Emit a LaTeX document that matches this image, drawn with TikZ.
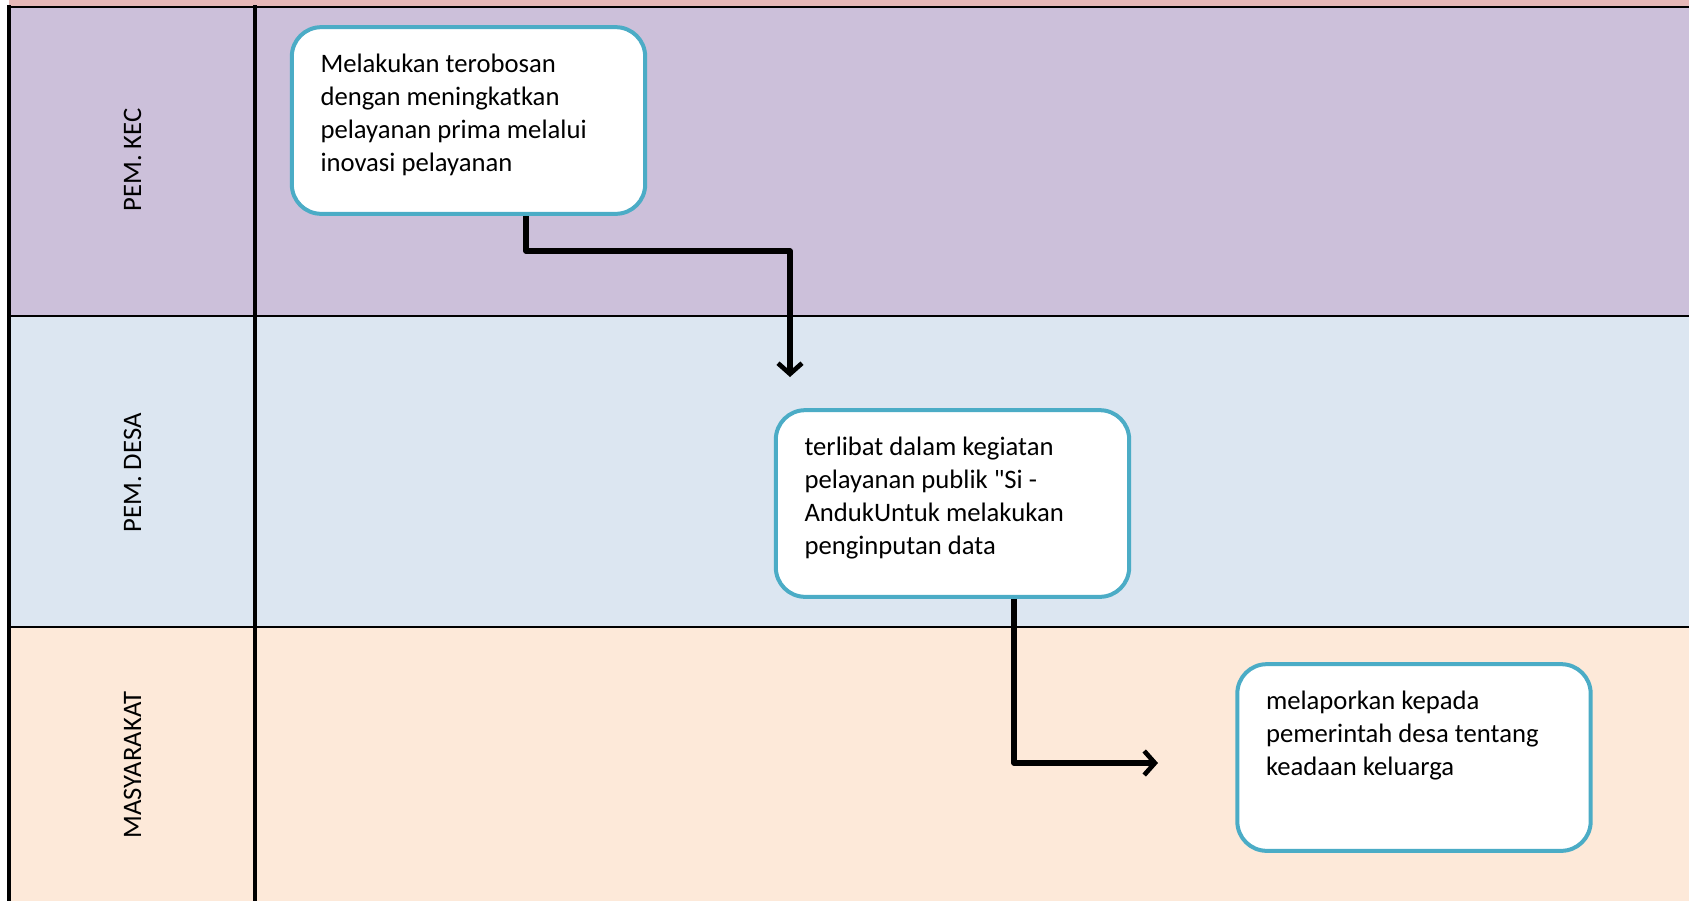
\documentclass[tikz,border=0pt]{standalone}
\usepackage{fontspec}
\setmainfont{Carlito}[Ligatures=TeXOff]
\usetikzlibrary{arrows.meta}
\definecolor{topstrip}{HTML}{E6B8B7}
\definecolor{kecfill}{HTML}{CCC0DA}
\definecolor{desafill}{HTML}{DCE6F1}
\definecolor{masyfill}{HTML}{FDE9D9}
\definecolor{boxline}{HTML}{4BACC6}
\tikzset{
  act/.style={draw=boxline,line width=3pt,fill=white,rounded corners=22pt,
    minimum width=265pt,minimum height=140pt,inner sep=0pt},
  flow/.style={line width=4pt,-{Straight Barb[length=8pt,width=18pt,line width=3.5pt]}},
  lanelabel/.style={rotate=90,inner sep=0pt,font=\fontsize{20}{24}\selectfont},
}
\newcommand{\acttext}[1]{\parbox[c][100pt][t]{222pt}{\fontsize{20}{24.75}\selectfont\raggedright #1}}
\begin{document}
\begin{tikzpicture}[x=0.75pt,y=-0.75pt,line join=round]
  \useasboundingbox (0,0) rectangle (1689,901);
  % lanes
  \fill[topstrip] (9,0) rectangle (1689,7);
  \fill[kecfill] (9,7) rectangle (1689,316);
  \fill[desafill] (9,316) rectangle (1689,627);
  \fill[masyfill] (9,627) rectangle (1689,901);
  \draw[line width=2pt] (9,7)--(1689,7) (9,316)--(1689,316) (9,627)--(1689,627);
  \draw[line width=3pt] (9,5)--(9,901) (255,5)--(255,901);
  \node[lanelabel] (lkec) at (132.5,160) {PEM. KEC};
  \node[lanelabel] (ldesa) at (132.5,473) {PEM. DESA};
  \node[lanelabel] (lmasy) at (132.5,765) {MASYARAKAT};
  % activities
  \node[act] (kec) at (468.5,120.5) {\acttext{Melakukan terobosan\\dengan meningkatkan\\pelayanan prima melalui\\inovasi pelayanan}};
  \node[act] (desa) at (952.5,503.5) {\acttext{terlibat dalam kegiatan\\pelayanan publik "Si -\\AndukUntuk melakukan\\penginputan data}};
  \node[act] (masy) at (1414,757.5) {\acttext{melaporkan kepada\\pemerintah desa tentang\\keadaan keluarga}};
  % flow
  \coordinate (k1) at (526,251);
  \coordinate (t1) at (790,377);
  \coordinate (d1) at (1014,763);
  \coordinate (t2) at (1158,763);
  \draw[flow] (kec.south -| k1) -- (k1) -| (t1);
  \draw[flow] (desa.south -| d1) |- (t2);
\end{tikzpicture}
\end{document}
